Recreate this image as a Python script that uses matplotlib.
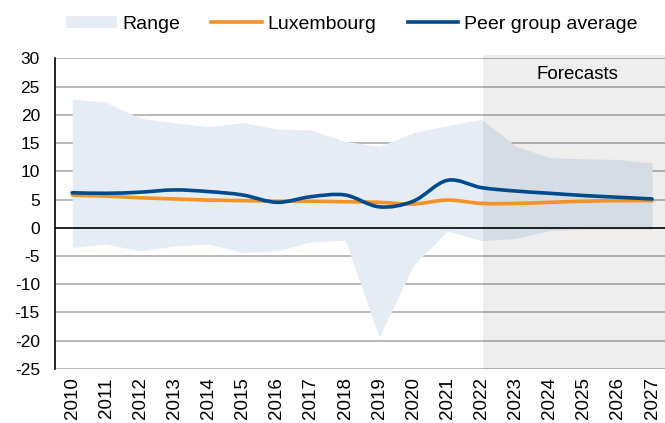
import numpy as np
import matplotlib.pyplot as plt
from matplotlib.path import Path
from matplotlib.patches import PathPatch, Rectangle
from matplotlib.lines import Line2D

plt.rcParams['font.family'] = ['Liberation Sans', 'DejaVu Sans']
plt.rcParams['axes.unicode_minus'] = False

# data
years = list(range(2010, 2028))
range_high = [22.8, 22.2, 19.4, 18.6, 17.9, 18.6, 17.5, 17.3, 15.3, 14.4,
              16.8, 18.1, 19.2, 14.5, 12.4, 12.2, 12.1, 11.5]
range_low = [-3.5, -2.9, -4.1, -3.2, -2.9, -4.4, -4.1, -2.5, -2.2, -19.4,
             -6.7, -0.6, -2.3, -1.9, -0.5, -0.3, -0.3, -0.3]
luxembourg = [5.8, 5.6, 5.3, 5.1, 4.9, 4.8, 4.7, 4.7, 4.6, 4.5,
              4.2, 4.9, 4.3, 4.3, 4.5, 4.7, 4.8, 4.8]
peer_avg = [6.2, 6.1, 6.3, 6.7, 6.4, 5.8, 4.5, 5.5, 5.8, 3.7,
            4.7, 8.4, 7.1, 6.5, 6.1, 5.7, 5.4, 5.1]
forecast_start = 2022

c_range = '#E5ECF4'
c_lux = '#F39325'
c_peer = '#004B8D'


def smooth_path(x, y):
    # Catmull-Rom style smooth curve drawn as cubic Bezier segments
    x = np.asarray(x, float)
    y = np.asarray(y, float)
    verts = [(x[0], y[0])]
    codes = [Path.MOVETO]
    n = len(x)
    for i in range(n - 1):
        i0 = max(i - 1, 0)
        i3 = min(i + 2, n - 1)
        c1 = (x[i] + (x[i + 1] - x[i0]) / 6, y[i] + (y[i + 1] - y[i0]) / 6)
        c2 = (x[i + 1] - (x[i3] - x[i]) / 6, y[i + 1] - (y[i3] - y[i]) / 6)
        verts += [c1, c2, (x[i + 1], y[i + 1])]
        codes += [Path.CURVE4] * 3
    return Path(verts, codes)


fig = plt.figure(figsize=(6.65, 4.23), dpi=100)
ax = fig.add_axes([0.083, 0.128, 0.917, 0.734])

ax.fill_between(years, range_low, range_high, color=c_range, lw=0, zorder=1)

# forecast shading
ax.add_patch(Rectangle((forecast_start + 0.05, 0), 10, 1.01,
                       transform=ax.get_xaxis_transform(),
                       facecolor='black', alpha=0.065, lw=0,
                       clip_on=False, zorder=2))
ax.text(2024.8, 27.1, 'Forecasts', ha='center', va='center', fontsize=13.5)

for ylev in range(-25, 31, 5):
    if ylev != 0:
        ax.axhline(ylev, color='#A6A6A6', lw=1.1, zorder=0)
ax.axhline(0, color='black', lw=1.2, zorder=3)

ax.add_patch(PathPatch(smooth_path(years, luxembourg), fill=False,
                       edgecolor=c_lux, lw=2.6, zorder=4, capstyle='round'))
ax.add_patch(PathPatch(smooth_path(years, peer_avg), fill=False,
                       edgecolor=c_peer, lw=2.6, zorder=5, capstyle='round'))

ax.set_xlim(2009.5, 2027.38)
ax.set_ylim(-25, 30)
ax.set_yticks(range(-25, 31, 5))
ax.set_xticks(years)
ax.set_xticklabels([str(y) for y in years], rotation=90)
ax.tick_params(axis='both', length=0)
ax.tick_params(axis='y', pad=11, labelsize=12.5)
ax.tick_params(axis='x', pad=6, labelsize=13.5)
for side in ['top', 'right', 'bottom']:
    ax.spines[side].set_visible(False)
ax.spines['left'].set_color('black')
ax.spines['left'].set_linewidth(1.2)

handles = [Rectangle((0, 0), 1, 1, facecolor=c_range, lw=0),
           Line2D([], [], color=c_lux, lw=2.6),
           Line2D([], [], color=c_peer, lw=2.6)]
fig.legend(handles, ['Range', 'Luxembourg', 'Peer group average'],
           loc='center', bbox_to_anchor=(0.529, 0.943), ncol=3, frameon=False,
           fontsize=14, handlelength=2.6, handleheight=0.55,
           handletextpad=0.3, columnspacing=1.6)

fig.savefig('out.png', dpi=100)
